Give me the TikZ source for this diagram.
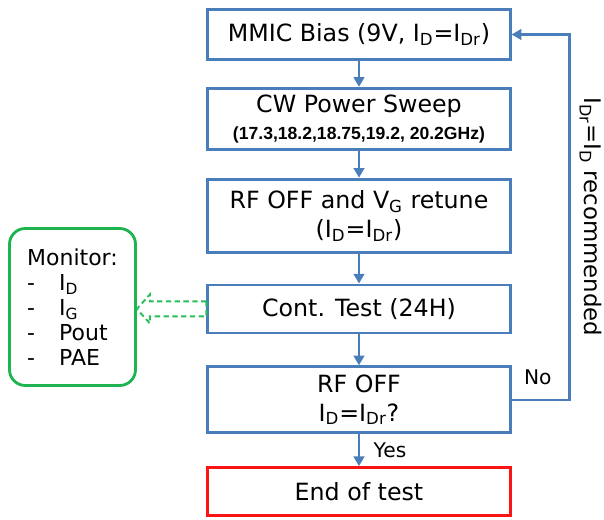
\documentclass[tikz,border=0pt]{standalone}
\usepackage{fontspec}
\setmainfont{DejaVu Sans}
\newfontfamily\arialbold{Liberation Sans}[UprightFont=*-Bold]
\usepackage{tikz}
\usetikzlibrary{positioning,arrows.meta,calc}

\definecolor{flowblue}{RGB}{74,126,187}
\definecolor{endred}{RGB}{250,20,20}
\definecolor{mongreen}{RGB}{30,180,80}
\definecolor{dashgreen}{RGB}{40,190,90}

\begin{document}
\begin{tikzpicture}[
    node distance=0.55cm,
    box/.style={draw=flowblue, line width=1.6pt, minimum width=6.05cm,
                align=center, inner sep=2pt,
                font=\fontsize{13.5}{16.5}\selectfont},
    arrow/.style={-{Triangle[length=5.5pt,width=6pt]}, flowblue, line width=1.4pt},
    lbl/.style={text=black, font=\fontsize{11.5}{13}\selectfont, inner sep=2pt}
  ]
    \useasboundingbox (0,0) rectangle (12.08,-10.4);

    % Main flow
    \node[box, minimum height=1.0cm] (bias) at (7.18,-0.69)
      {MMIC Bias (9V, I\textsubscript{D}=I\textsubscript{Dr})};
    \node[box, minimum height=1.22cm, below=0.52cm of bias] (sweep)
      {CW Power Sweep\\[-1pt]
       {\fontsize{10}{11}\arialbold (17.3,18.2,18.75,19.2, 20.2GHz)}};
    \node[box, minimum height=1.46cm, below=0.54cm of sweep] (retune)
      {RF OFF and V\textsubscript{G} retune\\(I\textsubscript{D}=I\textsubscript{Dr})};
    \node[box, minimum height=0.96cm, below=0.6cm of retune] (cont)
      {Cont. Test (24H)};
    \node[box, minimum height=1.32cm, below=0.62cm of cont] (check)
      {RF OFF\\I\textsubscript{D}=I\textsubscript{Dr}?};
    \node[box, draw=endred, minimum height=0.96cm, below=0.64cm of check] (done)
      {End of test};

    % Monitor side box
    \node[draw=mongreen, line width=1.6pt, rounded corners=9pt,
          minimum width=2.52cm, minimum height=3.14cm, align=left,
          font=\fontsize{12.5}{14.2}\selectfont] (mon) at (1.45,-6.14)
      {Monitor:\\
       \makebox[0.64cm][l]{-}I\textsubscript{D}\\
       \makebox[0.64cm][l]{-}I\textsubscript{G}\\
       \makebox[0.64cm][l]{-}Pout\\
       \makebox[0.64cm][l]{-}PAE};

    % Arrows
    \draw[arrow] (bias) -- (sweep);
    \draw[arrow] (sweep) -- (retune);
    \draw[arrow] (retune) -- (cont);
    \draw[arrow] (cont) -- (check);
    \draw[arrow] (check) -- node[lbl, right=0.2cm]{Yes} (done);
    \draw[arrow] (check.east) -- node[lbl, above=0.2cm, pos=0.45]{No} ++(1.16,0)
      |- node[pos=0.25, rotate=-90, anchor=south, inner sep=5pt, text=black,
              font=\fontsize{13}{15}\selectfont]
        {I\textsubscript{Dr}=I\textsubscript{D} recommended} (bias.east);

    % Hollow dashed arrow to the monitor
    \coordinate (tip) at (mon.east |- cont.west);
    \draw[dashgreen, line width=1.1pt, dashed, dash pattern=on 3pt off 2pt]
      ($(cont.west)+(0,0.15)$) -- ($(tip)+(0.26,0.15)$)
      -- ($(tip)+(0.26,0.29)$) -- (tip) -- ($(tip)+(0.26,-0.29)$)
      -- ($(tip)+(0.26,-0.15)$) -- ($(cont.west)+(0,-0.15)$) -- cycle;
  \end{tikzpicture}
\end{document}
